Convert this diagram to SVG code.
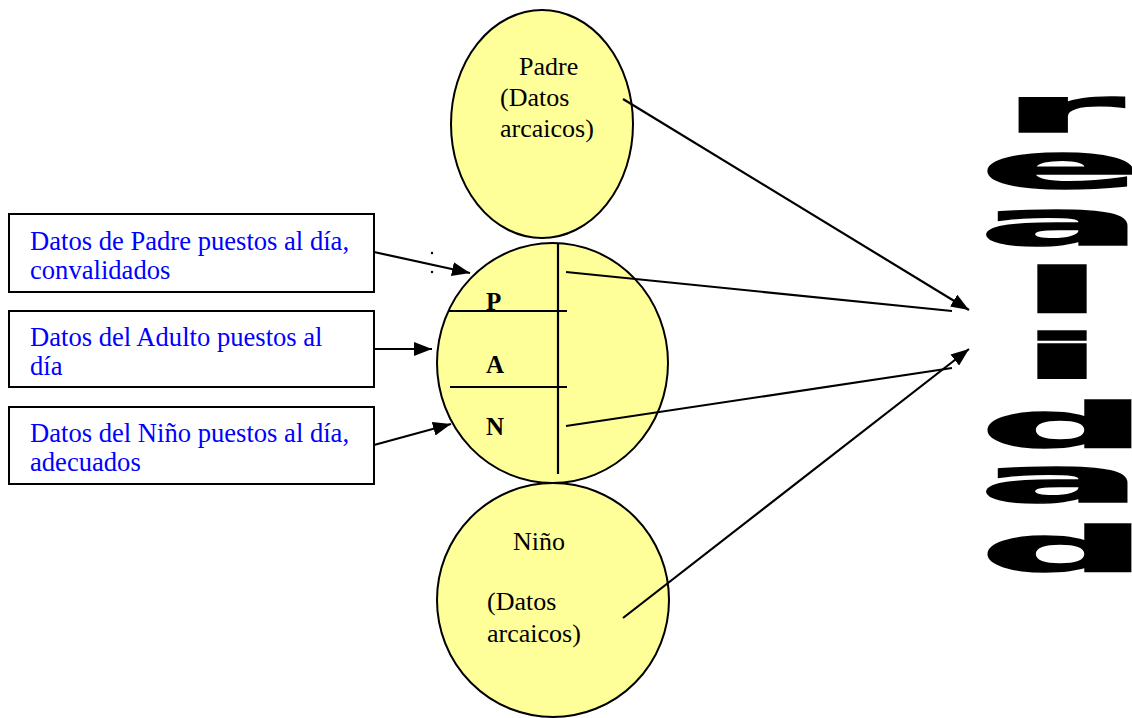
<svg xmlns="http://www.w3.org/2000/svg" width="1132" height="718" viewBox="0 0 1132 718">
<style>
.ell{fill:#FFFF99;stroke:#000;stroke-width:2}
.box{fill:#fff;stroke:#000;stroke-width:2}
.ln{stroke:#000;stroke-width:2.2;fill:none}
.t{font-family:"Liberation Serif","Times New Roman",serif;font-size:26px;fill:#000}
.bt{font-family:"Liberation Serif","Times New Roman",serif;font-size:26.6px;fill:#0000FF}
.pan{font-family:"Liberation Serif","Times New Roman",serif;font-size:25px;font-weight:bold;fill:#000}
.w{font-family:"DejaVu Sans",sans-serif;font-weight:bold;font-size:62px;fill:#000;stroke:#000;stroke-width:1.5;text-anchor:middle}
</style>
<defs>
<marker id="ah" viewBox="0 0 18 14" refX="18" refY="7" markerWidth="18" markerHeight="14" markerUnits="userSpaceOnUse" orient="auto">
<path d="M0,0 L18,7 L0,14 z" fill="#000"/>
</marker>
</defs>
<g id="padre">
<ellipse class="ell" cx="542" cy="124" rx="91" ry="114"/>
<text class="t" x="519" y="75">Padre</text>
<text class="t" x="500" y="106">(Datos</text>
<text class="t" x="500" y="137">arcaicos)</text>
</g>
<g id="nino">
<ellipse class="ell" cx="553" cy="600" rx="116" ry="117"/>
<text class="t" x="513" y="550">Niño</text>
<text class="t" x="487" y="610">(Datos</text>
<text class="t" x="487" y="642">arcaicos)</text>
</g>
<g id="pan">
<ellipse class="ell" cx="552.5" cy="363" rx="115.5" ry="120"/>
<line class="ln" x1="558" y1="244" x2="558" y2="474"/>
<line class="ln" x1="449" y1="311" x2="567" y2="311"/>
<line class="ln" x1="450" y1="387" x2="567" y2="387"/>
<text class="pan" x="486" y="310">P</text>
<text class="pan" x="486" y="373">A</text>
<text class="pan" x="486" y="435">N</text>
</g>
<g id="box1">
<rect class="box" x="9" y="214" width="365" height="78"/>
<text class="bt" x="30" y="250">Datos de Padre puestos al día,</text>
<text class="bt" x="30" y="279">convalidados</text>
</g>
<g id="box2">
<rect class="box" x="9" y="311" width="365" height="76"/>
<text class="bt" x="30" y="346">Datos del Adulto puestos al</text>
<text class="bt" x="30" y="375">día</text>
</g>
<g id="box3">
<rect class="box" x="9" y="407" width="365" height="77"/>
<text class="bt" x="30" y="442">Datos del Niño puestos al día,</text>
<text class="bt" x="30" y="471">adecuados</text>
</g>
<g id="realidad">
<text class="w" transform="translate(1062,132) scale(4,1)">r</text>
<text class="w" transform="translate(1061,188) scale(3.85,1)">e</text>
<text class="w" transform="translate(1061,245) scale(3.95,1)">a</text>
<text class="w" transform="translate(1062,312) scale(4,1)">l</text>
<text class="w" transform="translate(1062,378) scale(4,1)">i</text>
<text class="w" transform="translate(1064,447) scale(3.8,1)">d</text>
<text class="w" transform="translate(1061,502) scale(3.95,1)">a</text>
<text class="w" transform="translate(1064,571) scale(3.8,1)">d</text>
</g>
<g id="connectors">
<line class="ln" x1="374" y1="252" x2="470" y2="273" marker-end="url(#ah)"/>
<line class="ln" x1="374" y1="349" x2="432" y2="349" marker-end="url(#ah)"/>
<line class="ln" x1="374" y1="445" x2="451" y2="424" marker-end="url(#ah)"/>
<circle cx="432" cy="253" r="1.2" fill="#000"/>
<circle cx="432" cy="272" r="1.2" fill="#000"/>
<line class="ln" x1="623" y1="99" x2="969" y2="310" marker-end="url(#ah)"/>
<line class="ln" x1="623" y1="618" x2="969" y2="349" marker-end="url(#ah)"/>
<line class="ln" x1="566" y1="272" x2="952" y2="311"/>
<line class="ln" x1="566" y1="426" x2="952" y2="368"/>
</g>
</svg>
